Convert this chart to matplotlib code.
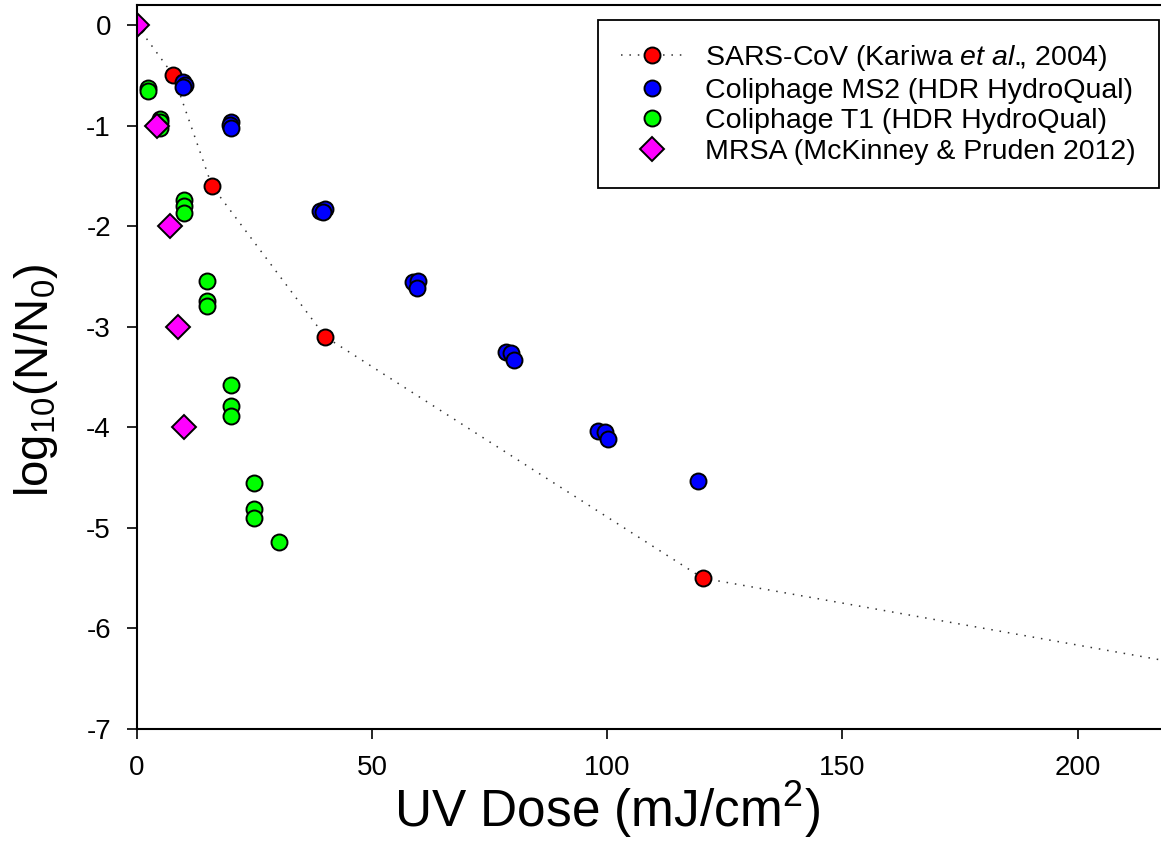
import numpy as np
import matplotlib
matplotlib.use('Agg')
import matplotlib.pyplot as plt

plt.rcParams['font.family'] = ['Liberation Sans', 'DejaVu Sans']
plt.rcParams['mathtext.fontset'] = 'custom'
plt.rcParams['mathtext.rm'] = 'Liberation Sans'
plt.rcParams['mathtext.it'] = 'Liberation Sans:italic'

# SARS-CoV (Kariwa et al., 2004) - last point lies past the right edge
sars_dose = [0, 7.8, 16.0, 40.1, 120.3, 240.0]
sars_log = [0, -0.50, -1.60, -3.10, -5.50, -6.50]

# Coliphage MS2 (HDR HydroQual)
ms2_dose = [9.9, 10.2, 9.9, 20.0, 19.8, 20.0, 39.0, 40.0, 39.6,
            58.8, 59.8, 59.6, 78.4, 79.5, 80.2, 98.1, 99.5, 100.2, 119.2]
ms2_log = [-0.57, -0.60, -0.62, -0.96, -0.99, -1.02, -1.85, -1.83, -1.86,
           -2.56, -2.55, -2.61, -3.25, -3.26, -3.33, -4.04, -4.05, -4.12, -4.53]

# Coliphage T1 (HDR HydroQual)
t1_dose = [2.4, 2.5, 5.0, 5.0, 5.0, 10.0, 10.0, 10.0, 15.0, 15.0, 15.0,
           20.0, 20.0, 20.0, 25.0, 25.0, 25.0, 30.3]
t1_log = [-0.63, -0.66, -0.93, -0.96, -1.02, -1.74, -1.80, -1.87, -2.55, -2.74, -2.79,
          -3.58, -3.79, -3.89, -4.55, -4.81, -4.90, -5.14]

# MRSA (McKinney & Pruden 2012)
mrsa_dose = [0, 4.4, 7.1, 8.7, 10.0]
mrsa_log = [0, -1.0, -2.0, -3.0, -4.0]

fig = plt.figure(figsize=(11.61, 8.56), dpi=100)
ax = fig.add_axes([0.1177, 0.1484, 1 - 0.1177, 0.9942 - 0.1484])

mk = dict(ms=11.5, mec='black', mew=1.4)
ax.plot(sars_dose, sars_log, color='#333333', lw=1.1, dashes=(1, 4.5),
        marker='o', mfc='#ff0000', **mk,
        label=r'SARS-CoV (Kariwa $\mathit{et\ al.}\!\!$, 2004)')
ax.plot(ms2_dose, ms2_log, ls='none', marker='o', mfc='#0000ff', **mk,
        label='Coliphage MS2 (HDR HydroQual)')
ax.plot(t1_dose, t1_log, ls='none', marker='o', mfc='#00ff00', **mk,
        label='Coliphage T1 (HDR HydroQual)')
ax.plot(mrsa_dose, mrsa_log, ls='none', marker='D', ms=12, mec='black', mew=1.4,
        mfc='#ff00ff', label='MRSA (McKinney & Pruden 2012)')

ax.set_xlim(0, 217.7)
ax.set_ylim(-7, 0.2)
ax.set_xticks([0, 50, 100, 150, 200])
ax.set_yticks(np.arange(-7, 1, 1))
ax.set_yticklabels([str(v) for v in range(-7, 1)])

ax.spines['right'].set_visible(False)
for s in ['left', 'bottom', 'top']:
    ax.spines[s].set_linewidth(1.5)
ax.tick_params(direction='out', length=7.5, width=1.2, labelsize=20, pad=11)

# axis labels, placed where the reference has them
ax.set_xlabel(r'UV Dose (mJ/cm$^2$)', fontsize=37, va='baseline')
ax.xaxis.set_label_coords(100 / 217.7, -(827 - 729) / 724)
ax.set_ylabel(r'log$_{10}$(N/N$_0$)', fontsize=34, va='center')
ax.yaxis.set_label_coords(-(137 - 36) / 1024, (729 - 380) / 724)

leg = ax.legend(loc='upper right', bbox_to_anchor=(1159 / 1161, 1 - 20 / 856),
                bbox_transform=fig.transFigure, borderaxespad=0, fontsize=20.5,
                frameon=True, fancybox=False, framealpha=1, edgecolor='black',
                borderpad=0.81, labelspacing=0.16, handlelength=2.18,
                handletextpad=0.77, numpoints=1)
leg.get_frame().set_linewidth(1.3)

fig.savefig('out.png', dpi=100)
